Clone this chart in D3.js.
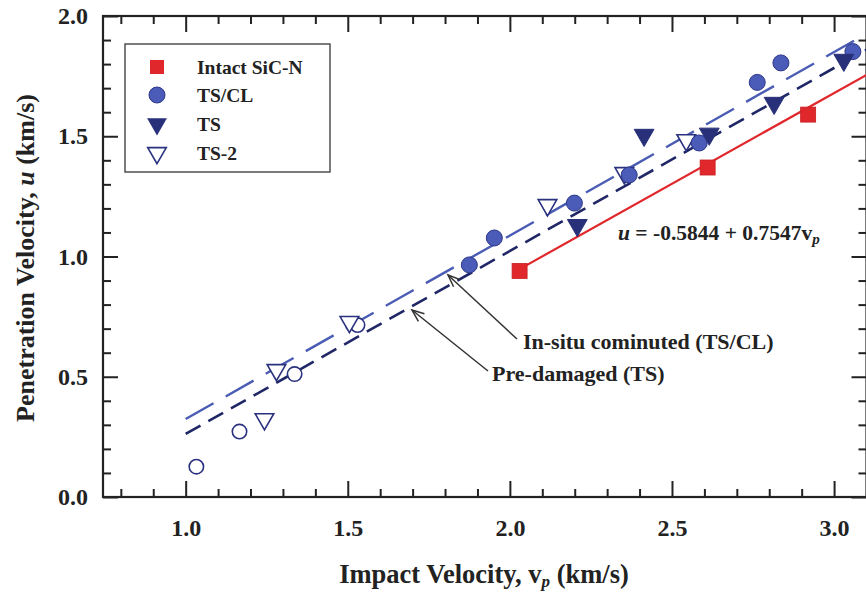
<!DOCTYPE html>
<html>
<head>
<meta charset="utf-8">
<script src="https://cdn.jsdelivr.net/npm/d3@7"></script>
<style>
  html, body { margin: 0; padding: 0; background: #fff; }
  svg { display: block; }
  text { font-family: "Liberation Serif", "Times New Roman", serif; font-weight: bold; fill: #222; }
</style>
</head>
<body>
<svg id="chart" width="866" height="597"></svg>
<script>
// Penetration velocity vs impact velocity (SiC-N targets)
const xMajorTicks = [1.0, 1.5, 2.0, 2.5, 3.0];
const yMajorTicks = [0.0, 0.5, 1.0, 1.5, 2.0];

const intactV = [2.03, 2.61, 2.92];
const intactU = [0.94, 1.37, 1.59];

const tsclV = [1.875, 1.952, 2.199, 2.368, 2.584, 2.763, 2.836, 3.058];
const tsclU = [0.965, 1.077, 1.222, 1.339, 1.472, 1.724, 1.805, 1.852];

const tsV = [2.208, 2.414, 2.615, 2.815, 3.03];
const tsU = [1.13, 1.505, 1.51, 1.638, 1.817];

const ts2V = [1.243, 1.28, 1.505, 2.116, 2.353, 2.544];
const ts2U = [0.324, 0.528, 0.728, 1.214, 1.347, 1.484];

const lowV = [1.033, 1.166, 1.336, 1.53];
const lowU = [0.126, 0.272, 0.511, 0.715];

// linear fits u = a + b * v
const fitIntact = { a: -0.5844, b: 0.7547, from: 2.03 };
const fitTSCL   = { a: -0.439,  b: 0.763,  from: 1.0 };
const fitTS     = { a: -0.499,  b: 0.761,  from: 1.0 };

const legendLabels = ["Intact SiC-N", "TS/CL", "TS", "TS-2"];

const C = {
  red: "#e0282c", redEdge: "#c81e22",
  circ: "#4a5bb8", circEdge: "#2c3788",
  tri: "#28307a", open: "#2a3280",
  lineLight: "#4a5cb4", lineDark: "#1f2766",
  axis: "#222"
};

const svg = d3.select("#chart");
const pL = 103, pR = 866.5, pT = 16, pB = 497;
const x = d3.scaleLinear().domain([0.745, 3.1]).range([pL, pR]);
const y = d3.scaleLinear().domain([0, 2.0]).range([pB, pT]);

svg.append("clipPath").attr("id", "plotclip")
  .append("rect").attr("x", pL).attr("y", pT)
  .attr("width", pR - pL).attr("height", pB - pT);

// minor/major tick values
const xMinor = d3.range(8, 31).map(d => d / 10).filter(v => !xMajorTicks.some(m => Math.abs(m - v) < 1e-6));
const yMinor = d3.range(1, 20).map(d => d / 10).filter(v => !yMajorTicks.some(m => Math.abs(m - v) < 1e-6));

function addAxis(axis, transform, major, minor, majorLen, minorLen, labels) {
  const gMin = svg.append("g").attr("transform", transform)
    .call(axis.tickValues(minor).tickSize(minorLen).tickFormat(""));
  gMin.select(".domain").remove();
  gMin.selectAll("line").attr("stroke", C.axis).attr("stroke-width", 2);
  const gMaj = svg.append("g").attr("transform", transform)
    .call(axis.tickValues(major).tickSize(majorLen).tickFormat(labels ? d3.format(".1f") : ""));
  gMaj.select(".domain").remove();
  gMaj.selectAll("line").attr("stroke", C.axis).attr("stroke-width", 2);
  return gMaj;
}

// bottom axis (ticks pointing inward)
const gb = addAxis(d3.axisBottom(x), `translate(0,${pB})`, xMajorTicks, xMinor, -16, -8, true);
gb.selectAll("text").attr("y", 22).attr("dy", "0.71em").style("font-size", "24px")
  .style("font-family", '"Liberation Serif", serif').style("font-weight", "bold").attr("fill", "#222");
// top axis
addAxis(d3.axisTop(x), `translate(0,${pT})`, xMajorTicks, xMinor, -16, -8, false);
// left axis
const gl = addAxis(d3.axisLeft(y), `translate(${pL},0)`, yMajorTicks, yMinor, -15, -8, true);
gl.selectAll("text").attr("x", -15).style("font-size", "24px")
  .style("font-family", '"Liberation Serif", serif').style("font-weight", "bold").attr("fill", "#222");
// right axis
addAxis(d3.axisRight(y), `translate(${pR},0)`, yMajorTicks, yMinor, -15, -8, false);

// frame
svg.append("rect").attr("x", pL).attr("y", pT).attr("width", pR - pL).attr("height", pB - pT)
  .attr("fill", "none").attr("stroke", C.axis).attr("stroke-width", 2.2);

// axis titles
const xt = svg.append("text").attr("x", 484).attr("y", 583).attr("text-anchor", "middle").style("font-size", "26.5px");
xt.append("tspan").text("Impact Velocity, v");
xt.append("tspan").attr("dy", 4).style("font-size", "17px").style("font-style", "italic").text("p");
xt.append("tspan").attr("dy", -4).text(" (km/s)");

const yt = svg.append("text").attr("transform", "translate(34,258) rotate(-90)").attr("text-anchor", "middle").style("font-size", "26px");
yt.append("tspan").text("Penetration Velocity, ");
yt.append("tspan").style("font-style", "italic").text("u");
yt.append("tspan").text(" (km/s)");

// fit lines
const plot = svg.append("g").attr("clip-path", "url(#plotclip)");
function fitLine(f, color, dash, width) {
  const pts = [f.from, 3.2].map(v => [x(v), y(f.a + f.b * v)]);
  plot.append("path").attr("d", d3.line()(pts)).attr("fill", "none")
    .attr("stroke", color).attr("stroke-width", width).attr("stroke-dasharray", dash);
}
fitLine(fitTSCL, C.lineLight, "32,14", 2.4);
fitLine(fitTS, C.lineDark, "17,9", 2.6);
fitLine(fitIntact, C.red, null, 2.2);

// markers
const sym = (type, size) => d3.symbol().type(type).size(size)();
const zip = (a, b) => a.map((v, i) => [v, b[i]]);

plot.selectAll(".low").data(zip(lowV, lowU)).join("circle")
  .attr("cx", d => x(d[0])).attr("cy", d => y(d[1])).attr("r", 7.2)
  .attr("fill", "#fff").attr("stroke", C.open).attr("stroke-width", 1.6);

plot.selectAll(".ts2").data(zip(ts2V, ts2U)).join("path")
  .attr("d", sym(d3.symbolTriangle, 150))
  .attr("transform", d => `translate(${x(d[0])},${y(d[1])}) rotate(180)`)
  .attr("fill", "#fff").attr("stroke", C.open).attr("stroke-width", 1.6);

plot.selectAll(".tscl").data(zip(tsclV, tsclU)).join("circle")
  .attr("cx", d => x(d[0])).attr("cy", d => y(d[1])).attr("r", 8)
  .attr("fill", C.circ).attr("stroke", C.circEdge).attr("stroke-width", 1);

plot.selectAll(".ts").data(zip(tsV, tsU)).join("path")
  .attr("d", sym(d3.symbolTriangle, 170))
  .attr("transform", d => `translate(${x(d[0])},${y(d[1])}) rotate(180)`)
  .attr("fill", C.tri).attr("stroke", C.tri).attr("stroke-width", 1);

plot.selectAll(".intact").data(zip(intactV, intactU)).join("rect")
  .attr("x", d => x(d[0]) - 7.5).attr("y", d => y(d[1]) - 7.5).attr("width", 15).attr("height", 15)
  .attr("fill", C.red).attr("stroke", C.redEdge).attr("stroke-width", 0.8);

// equation label
const eq = svg.append("text").attr("x", 618).attr("y", 240).style("font-size", "21.5px");
eq.append("tspan").style("font-style", "italic").text("u");
eq.append("tspan").text(" = -0.5844 + 0.7547v");
eq.append("tspan").attr("dy", 4).style("font-size", "15px").style("font-style", "italic").text("p");

// callouts with open arrowheads
function callout(x1, y1, x2, y2) {
  svg.append("line").attr("x1", x1).attr("y1", y1).attr("x2", x2).attr("y2", y2)
    .attr("stroke", "#333").attr("stroke-width", 1.5);
  const ang = Math.atan2(y1 - y2, x1 - x2);
  const L = 13, w = 0.38;
  const p = s => [x2 + L * Math.cos(ang + s * w), y2 + L * Math.sin(ang + s * w)];
  svg.append("path").attr("d", d3.line()([p(1), [x2, y2], p(-1)]))
    .attr("fill", "none").attr("stroke", "#333").attr("stroke-width", 1.5);
}
callout(517, 339, 448, 275);
callout(488, 371, 412, 310);
svg.append("text").attr("x", 523).attr("y", 349).style("font-size", "22px").text("In-situ cominuted (TS/CL)");
svg.append("text").attr("x", 492).attr("y", 381).style("font-size", "22px").text("Pre-damaged (TS)");

// legend
const lg = svg.append("g");
lg.append("rect").attr("x", 125).attr("y", 44).attr("width", 205).attr("height", 128)
  .attr("fill", "#fff").attr("stroke", "#444").attr("stroke-width", 1.4);
const ly = [67, 95, 124, 153];
lg.append("rect").attr("x", 150).attr("y", ly[0] - 7).attr("width", 14).attr("height", 14).attr("fill", C.red);
lg.append("circle").attr("cx", 157).attr("cy", ly[1]).attr("r", 8).attr("fill", C.circ).attr("stroke", C.circEdge);
lg.append("path").attr("d", sym(d3.symbolTriangle, 170)).attr("transform", `translate(157,${ly[2]}) rotate(180)`).attr("fill", C.tri);
lg.append("path").attr("d", sym(d3.symbolTriangle, 150)).attr("transform", `translate(157,${ly[3]}) rotate(180)`)
  .attr("fill", "#fff").attr("stroke", C.open).attr("stroke-width", 1.6);
lg.selectAll(".lt").data(legendLabels).join("text")
  .attr("x", 197).attr("y", (d, i) => ly[i]).attr("dy", "0.35em").style("font-size", "19.5px").text(d => d);
</script>
</body>
</html>
